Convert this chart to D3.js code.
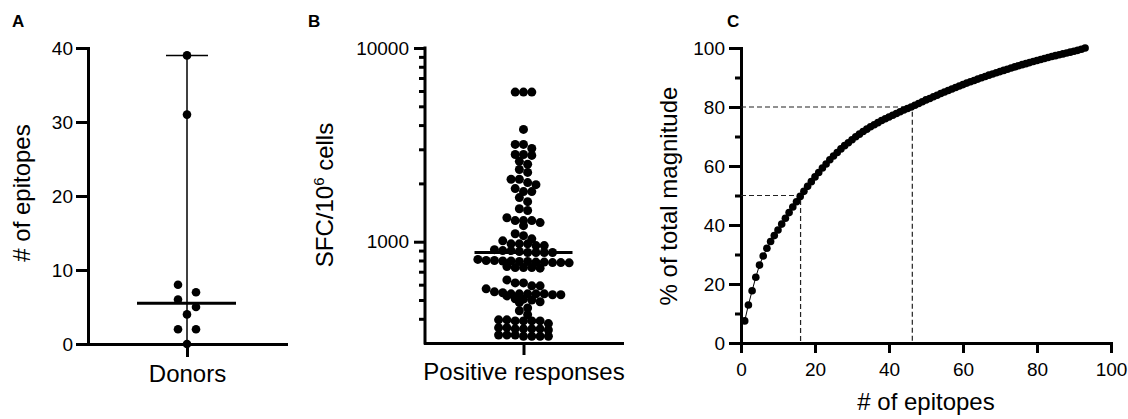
<!DOCTYPE html>
<html>
<head>
<meta charset="utf-8">
<script src="https://cdn.jsdelivr.net/npm/d3@7"></script>
<style>
body { margin: 0; background: #fff; }
svg { display: block; font-family: "Liberation Sans", Arial, sans-serif; }
.axis path, .axis line { stroke: #000; stroke-width: 3; }
.axis path { stroke-linecap: square; }
.axis text { fill: #000; font-size: 19px; font-family: "Liberation Sans", Arial, sans-serif; }
.title { font-size: 24px; fill: #000; }
.panel { font-size: 17px; font-weight: bold; fill: #000; }
</style>
</head>
<body>
<svg id="chart" width="1128" height="419"></svg>
<script>
// panel A - epitopes per donor
const donorEpitopes = [39, 31, 8, 7, 6, 5, 4, 2, 2, 0];
const donorTicks = [0, 10, 20, 30, 40];

// panel B - magnitude of each positive response (SFC per million cells)
const responseSFC = [
  5920, 5920, 5920, 3800, 3180, 3180, 3030, 2820, 2820, 2790, 2600, 2510, 2360, 2280,
  2100, 2100, 2020, 1970, 1880, 1815, 1815, 1690, 1610, 1480, 1450,
  1330, 1285, 1285, 1285, 1255, 1210, 1100, 1075,
  1035, 1010, 975, 975, 975, 955, 955,
  910, 900, 900, 890, 880, 880, 880, 880,
  810, 800, 800, 795, 795, 790, 790, 785, 785, 780, 780, 778,
  745, 735, 735, 735, 730,
  635, 613, 613, 592, 592, 571,
  551, 545, 538, 538, 538, 538, 538, 532, 532, 525, 507,
  505, 500, 490, 485,
  455, 440, 420,
  395, 395, 390, 390, 390, 390,
  378, 360, 360, 355, 355, 355, 355, 350,
  330, 330, 330, 325, 325, 325, 325
];
const responseMedian = 880;
const sfcMajor = [1000, 10000];
const sfcMinor = [400, 500, 600, 700, 800, 900, 2000, 3000, 4000, 5000, 6000, 7000, 8000, 9000];

// panel C - cumulative % of total magnitude, epitopes ranked 1..93
const cumulativePct = [
  7.5, 12.9, 17.7, 22.3, 26.4, 29.5, 32.1, 34.4, 36.4, 38.3,
  40.3, 42.3, 44.2, 46.1, 47.9, 49.7, 51.4, 53.1, 54.7, 56.3,
  57.8, 59.3, 60.7, 62.1, 63.4, 64.6, 65.8, 66.9, 67.9, 68.9,
  69.9, 70.8, 71.7, 72.5, 73.3, 74.0, 74.7, 75.4, 76.0, 76.6,
  77.2, 77.8, 78.4, 79.0, 79.5, 80.0, 80.6, 81.2, 81.8, 82.4,
  82.9, 83.5, 84.0, 84.6, 85.1, 85.6, 86.1, 86.6, 87.1, 87.6,
  88.1, 88.55, 89.0, 89.45, 89.9, 90.35, 90.8, 91.2, 91.6, 92.0,
  92.4, 92.8, 93.2, 93.6, 94.0, 94.35, 94.7, 95.05, 95.4, 95.75,
  96.1, 96.45, 96.8, 97.1, 97.4, 97.7, 98.0, 98.3, 98.6, 98.9,
  99.2, 99.6, 100
];
const cutoffPct = [50, 80];
const cutoffEpitopes = [16.1, 46.3];
const cumXTicks = [0, 20, 40, 60, 80, 100];
const cumYTicks = [0, 20, 40, 60, 80, 100];
const cumYMinor = [10, 30, 50, 70, 90];

const svg = d3.select("#chart");

// prism-style scatter: values that fall in the same band are laid side by side, centred
function rowSwarm(values, y, rowH, step) {
  const pts = values.map(v => ({ v: v, y: y(v) })).sort((a, b) => b.v - a.v);
  const rows = [];
  pts.forEach(p => {
    const last = rows[rows.length - 1];
    if (last && p.y - last[0].y <= rowH) last.push(p);
    else rows.push([p]);
  });
  rows.forEach(r => r.forEach((p, j) => { p.x = (j - (r.length - 1) / 2) * step; }));
  return pts;
}

// ---------- A ----------
const yA = d3.scaleLinear().domain([0, 40]).range([344, 48]);
const xA = d3.scalePoint().domain(["Donors"]).range([88, 286]).padding(0.5);
const cA = xA("Donors");

svg.append("g").attr("class", "axis").attr("transform", "translate(88,0)")
  .call(d3.axisLeft(yA).tickValues(donorTicks).tickSize(12).tickPadding(3).tickSizeOuter(0));
const axA = svg.append("g").attr("class", "axis").attr("transform", "translate(0,344)")
  .call(d3.axisBottom(xA).tickSize(13).tickPadding(8).tickSizeOuter(0));
axA.selectAll("text").style("font-size", "24px");

// range bar + median
svg.append("line").attr("x1", cA).attr("x2", cA).attr("y1", yA(d3.min(donorEpitopes))).attr("y2", yA(d3.max(donorEpitopes)))
  .attr("stroke", "#000").attr("stroke-width", 1.5);
svg.append("line").attr("x1", cA - 21).attr("x2", cA + 21).attr("y1", yA(d3.max(donorEpitopes))).attr("y2", yA(d3.max(donorEpitopes)))
  .attr("stroke", "#000").attr("stroke-width", 1.5);
svg.append("g").selectAll("circle").data(rowSwarm(donorEpitopes, yA, 9, 18)).join("circle")
  .attr("cx", d => cA + d.x).attr("cy", d => d.y).attr("r", 4.3).attr("fill", "#000");
svg.append("line").attr("x1", cA - 50).attr("x2", cA + 49).attr("y1", yA(d3.median(donorEpitopes))).attr("y2", yA(d3.median(donorEpitopes)))
  .attr("stroke", "#000").attr("stroke-width", 3);

svg.append("text").attr("class", "title").attr("text-anchor", "middle")
  .attr("transform", "translate(30,193) rotate(-90)").text("# of epitopes");
svg.append("text").attr("class", "panel").attr("x", 12).attr("y", 27).text("A");

// ---------- B ----------
const yB = d3.scaleLog().domain([300, 10000]).range([343, 48]);
const xB = d3.scalePoint().domain(["Positive responses"]).range([425, 622]).padding(0.5);
const cB = xB("Positive responses");

svg.append("g").attr("class", "axis").attr("transform", "translate(425,0)")
  .call(d3.axisLeft(yB).tickValues(sfcMajor).tickFormat(d3.format("d")).tickSize(11).tickPadding(5).tickSizeOuter(0))
  .select(".domain").attr("d", "M0," + yB(300) + "V" + yB(10000));
svg.append("g").attr("class", "axis").attr("transform", "translate(425,0)")
  .call(d3.axisLeft(yB).tickValues(sfcMinor).tickFormat("").tickSize(6).tickSizeOuter(0))
  .select(".domain").remove();
const axB = svg.append("g").attr("class", "axis").attr("transform", "translate(0,343)")
  .call(d3.axisBottom(xB).tickSize(12).tickPadding(8).tickSizeOuter(0));
axB.selectAll("text").style("font-size", "24px");

svg.append("g").selectAll("circle").data(rowSwarm(responseSFC, yB, 6, 8.3)).join("circle")
  .attr("cx", d => cB + d.x).attr("cy", d => d.y).attr("r", 4.5).attr("fill", "#000");
svg.append("line").attr("x1", cB - 49).attr("x2", cB + 49).attr("y1", yB(responseMedian)).attr("y2", yB(responseMedian))
  .attr("stroke", "#000").attr("stroke-width", 3);

const tB = svg.append("text").attr("class", "title").attr("text-anchor", "middle")
  .attr("transform", "translate(333,195) rotate(-90)");
tB.append("tspan").text("SFC/10");
tB.append("tspan").attr("dy", -9).style("font-size", "15px").text("6");
tB.append("tspan").attr("dy", 9).text(" cells");
svg.append("text").attr("class", "panel").attr("x", 308).attr("y", 27).text("B");

// ---------- C ----------
const xC = d3.scaleLinear().domain([0, 100]).range([741, 1111]);
const yC = d3.scaleLinear().domain([0, 100]).range([343, 48]);

svg.append("g").attr("class", "axis").attr("transform", "translate(741,0)")
  .call(d3.axisLeft(yC).tickValues(cumYTicks).tickSize(12).tickPadding(4).tickSizeOuter(0));
svg.append("g").attr("class", "axis").attr("transform", "translate(741,0)")
  .call(d3.axisLeft(yC).tickValues(cumYMinor).tickFormat("").tickSize(6).tickSizeOuter(0))
  .select(".domain").remove();
svg.append("g").attr("class", "axis").attr("transform", "translate(0,343)")
  .call(d3.axisBottom(xC).tickValues(cumXTicks).tickSize(10).tickPadding(10).tickSizeOuter(0));

// dashed guides
cutoffPct.forEach((p, i) => {
  const n = cutoffEpitopes[i];
  svg.append("path")
    .attr("d", "M" + xC(0) + "," + yC(p) + "H" + xC(n) + "V" + yC(0))
    .attr("fill", "none").attr("stroke", "#222").attr("stroke-width", 1.2).attr("stroke-dasharray", "5,3");
});

const cum = cumulativePct.map((v, i) => ({ n: i + 1, v: v }));
svg.append("path").datum(cum)
  .attr("d", d3.line().x(d => xC(d.n)).y(d => yC(d.v)))
  .attr("fill", "none").attr("stroke", "#000").attr("stroke-width", 1);
svg.append("g").selectAll("circle").data(cum).join("circle")
  .attr("cx", d => xC(d.n)).attr("cy", d => yC(d.v)).attr("r", 3.8).attr("fill", "#000");

svg.append("text").attr("class", "title").attr("text-anchor", "middle")
  .attr("transform", "translate(677,196) rotate(-90)").text("% of total magnitude");
svg.append("text").attr("class", "title").attr("text-anchor", "middle")
  .attr("x", 926).attr("y", 410).text("# of epitopes");
svg.append("text").attr("class", "panel").attr("x", 727).attr("y", 27).text("C");
</script>
</body>
</html>
